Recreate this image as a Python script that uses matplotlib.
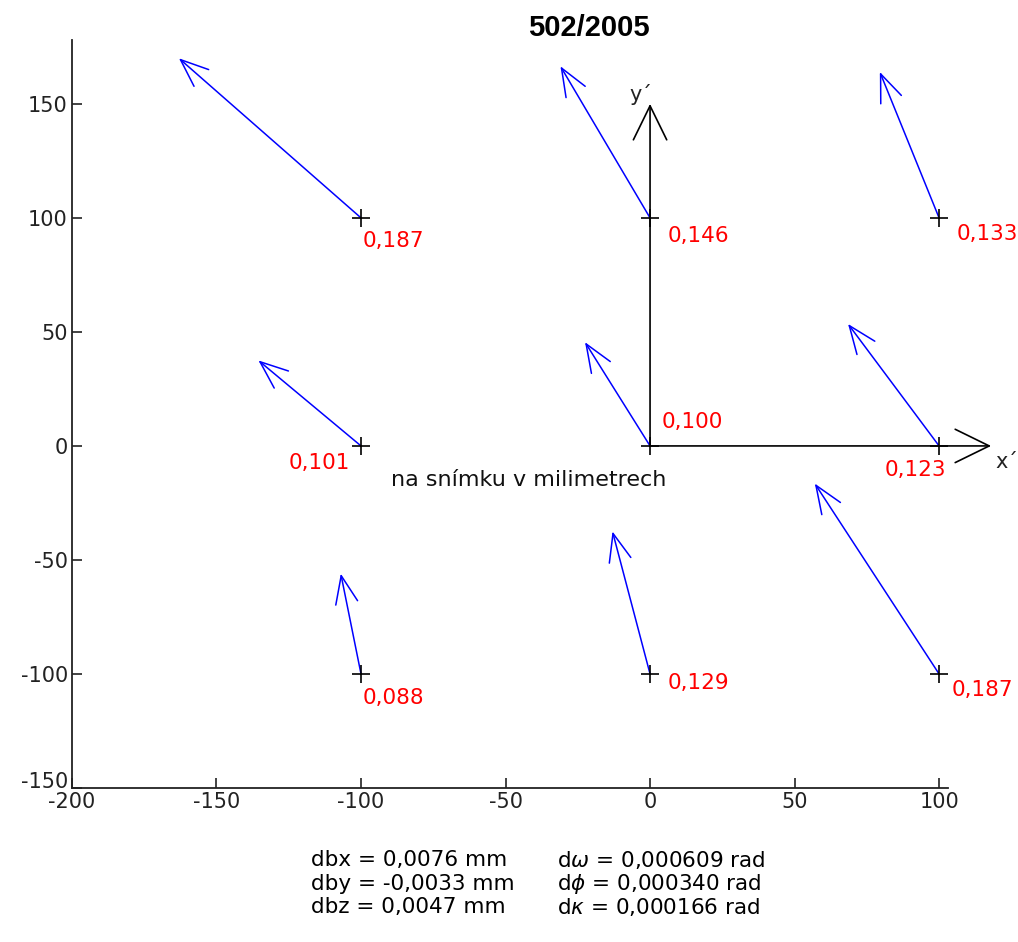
import matplotlib
matplotlib.use("Agg")
import matplotlib.pyplot as plt
import matplotlib.transforms as mtransforms

plt.rcParams["font.family"] = ["DejaVu Sans"]
plt.rcParams["axes.unicode_minus"] = False
plt.rcParams["mathtext.fontset"] = "dejavusans"

# grid points (mm on the image) and the tips of the displacement arrows
PX = [-100, 0, 100, -100, 0, 100, -100, 0, 100]
PY = [100, 100, 100, 0, 0, 0, -100, -100, -100]
TIP_X = [-163, -31, 79.5, -135.5, -22.5, 68.5, -107, -13, 57]
TIP_Y = [170, 166.5, 164, 37.5, 45.5, 53.5, -56, -37.5, -16.5]
LABELS = ["0,187", "0,146", "0,133", "0,101", "0,100", "0,123", "0,088", "0,129", "0,187"]
LABEL_OFF = [(0.5, -10), (6, -8), (6, -7), (-25, -7.5), (4, 10.5), (-19, -10.5),
             (0.5, -10.5), (6, -4), (4.5, -7)]

# local image coordinate axes x', y'
XAXIS_LEN = 118
YAXIS_LEN = 150

XTICKS = [-200, -150, -100, -50, 0, 50, 100]
YTICKS = [-150, -100, -50, 0, 50, 100, 150]

BOTTOM_LEFT = ["dbx = 0,0076 mm", "dby = -0,0033 mm", "dbz = 0,0047 mm"]
BOTTOM_RIGHT = [r"d$\omega$ = 0,000609 rad", r"d$\phi$ = 0,000340 rad", r"d$\kappa$ = 0,000166 rad"]

fig = plt.figure(figsize=(10.18, 9.42), dpi=100)
ax = fig.add_axes([0.0707, 0.1635, 0.8603, 0.794])
ax.set_xlim(-200, 103)
ax.set_ylim(-150, 178)

for s in ["top", "right"]:
    ax.spines[s].set_visible(False)
for s in ["left", "bottom"]:
    ax.spines[s].set_linewidth(1.3)
    ax.spines[s].set_color("#222222")
ax.set_xticks(XTICKS)
ax.set_yticks(YTICKS)
ax.tick_params(direction="in", length=7, width=1.2, labelsize=15, colors="#222222", pad=3)

# lift the lowest y label a little, as in the original, so it clears "-200"
lowest = ax.get_yticklabels()[0]
lowest.set_transform(lowest.get_transform() + mtransforms.ScaledTranslation(0, 6 / 72, fig.dpi_scale_trans))

# coordinate axes x', y'
for xy in [(XAXIS_LEN, 0), (0, YAXIS_LEN)]:
    ax.annotate("", xy=xy, xytext=(0, 0), annotation_clip=False,
                arrowprops=dict(arrowstyle="->,head_length=2.45,head_width=1.2", color="black",
                                lw=1.2, shrinkA=0, shrinkB=0))
ax.text(XAXIS_LEN + 1.5, -7, "x´", fontsize=15, color="#222222", ha="left", va="center")
ax.text(-7, YAXIS_LEN + 4, "y´", fontsize=15, color="#222222", ha="left", va="center")

# displacement vectors
for x0, y0, x1, y1 in zip(PX, PY, TIP_X, TIP_Y):
    ax.annotate("", xy=(x1, y1), xytext=(x0, y0), annotation_clip=False,
                arrowprops=dict(arrowstyle="->,head_length=2.0,head_width=0.8", color="#0000ff",
                                lw=1.1, shrinkA=0, shrinkB=0))

ax.plot(PX, PY, "+", color="black", markersize=13, mew=1.2, zorder=5)

for x0, y0, lab, (dx, dy) in zip(PX, PY, LABELS, LABEL_OFF):
    ax.text(x0 + dx, y0 + dy, lab, color="red", fontsize=15.5, ha="left", va="center", clip_on=False)

ax.text(-42, -15, "na snímku v milimetrech", fontsize=16, color="#111111", ha="center", va="center")

fig.text(0.578, 0.970, "502/2005", fontsize=21, fontweight="bold", ha="center", va="center",
         family="Liberation Sans")

for i, (l, r) in enumerate(zip(BOTTOM_LEFT, BOTTOM_RIGHT)):
    yy = 1 - (860 + i * 23.5) / 942
    fig.text(311 / 1018, yy, l, fontsize=15.5, ha="left", va="center")
    fig.text(557 / 1018, yy, r, fontsize=15.5, ha="left", va="center")

fig.savefig("out.png", dpi=100, facecolor="white")
